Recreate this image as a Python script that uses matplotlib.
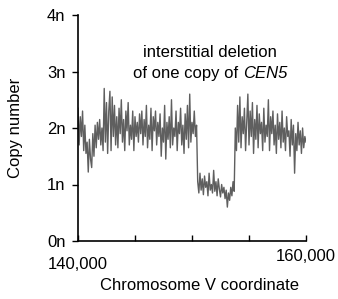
import numpy as np
import matplotlib
matplotlib.use("Agg")
import matplotlib.pyplot as plt

plt.rcParams['font.family'] = ['Liberation Sans', 'DejaVu Sans']

# copy number along chromosome V, one value per 100 bp from 140,000 to 160,000
left_arm = [2.35, 1.7, 2.2, 1.85, 2.3, 1.6, 2.05, 1.55, 1.75, 1.22, 1.8, 1.45, 1.3, 1.9, 1.5, 2.05,
            1.65, 2.1, 1.8, 2.15, 1.7, 2.0, 1.6, 2.7, 1.75, 2.45, 1.55, 2.3, 2.65,
            1.6, 2.55, 1.85, 2.4, 1.7, 2.2, 1.65, 2.35, 1.9, 2.5, 1.75, 2.15, 1.6, 2.3, 1.95,
            2.45, 1.7, 2.05, 1.8, 2.3, 1.6, 2.2, 1.85, 2.1, 1.75, 2.25,
            1.9, 2.3, 1.7, 2.15, 1.85, 2.4, 1.65, 2.05, 1.8, 2.35, 1.6, 2.2, 1.95, 2.3, 1.7,
            2.1, 1.85, 2.25, 1.5, 2.0, 1.75, 2.4, 1.45, 2.1, 1.8, 2.2, 1.65, 2.5, 1.7, 2.0,
            1.85, 2.3, 1.6, 2.1, 1.9, 2.35, 1.7, 2.05, 1.55, 2.25, 1.8, 2.4, 1.65, 2.6, 1.75,
            2.1, 1.9, 2.3, 1.85, 2.05]
deleted = [1.05, 0.85, 1.2, 0.9, 1.1, 0.82, 1.15, 0.95, 1.05, 0.8, 1.2, 0.9, 1.0, 0.85, 1.25,
           0.88, 1.05, 0.8, 1.1, 0.92, 0.78, 1.0, 0.85, 0.95, 0.75, 0.9, 0.6, 0.85, 0.72, 0.95,
           0.8, 1.05, 0.88]
right_arm = [2.0, 1.6, 2.4, 1.75, 2.55, 1.65, 2.2, 1.9, 2.35, 1.6, 2.1, 2.6, 1.7, 2.3, 1.85,
             2.45, 1.55, 2.15, 1.8, 2.4, 1.65, 2.25, 1.9, 2.1, 1.6, 2.35, 1.75, 2.05, 1.85, 2.5,
             1.6, 2.2, 1.9, 2.3, 1.7, 2.05, 1.55, 2.25, 1.8, 2.1, 1.65, 2.3, 1.75, 2.0, 1.6,
             2.2, 1.85, 1.95, 1.5, 2.15, 1.7, 2.05, 1.2, 1.9, 1.6, 2.1, 1.7, 1.95, 1.55, 2.0,
             1.65, 1.85, 1.75]

copy_number = np.array(left_arm + deleted + right_arm)
coords = 140000 + 100 * np.arange(len(copy_number))

y_ticks = [0, 1, 2, 3, 4]
y_labels = ['0n', '1n', '2n', '3n', '4n']
x_ticks = [140000, 145000, 150000, 155000, 160000]

fs = 12

fig = plt.figure(figsize=(3.38, 2.99), dpi=100)
ax = fig.add_axes([78 / 338, 58 / 299, 228 / 338, 226 / 299])

ax.plot(coords, copy_number, color='#5f5f5f', linewidth=1.0)

ax.set_xlim(140000, 160000)
ax.set_ylim(0, 4)
ax.set_yticks(y_ticks)
ax.set_yticklabels(y_labels, fontsize=fs)
ax.set_xticks(x_ticks)
ax.set_xticklabels([])
ax.tick_params(axis='y', direction='out', length=4, width=1, pad=5)
ax.tick_params(axis='x', direction='in', length=4, width=1)
for side in ['top', 'right']:
    ax.spines[side].set_visible(False)
for side in ['left', 'bottom']:
    ax.spines[side].set_linewidth(1.2)

# the two end labels sit at slightly different heights in the original
ax.text(0.0, -0.105, '140,000', transform=ax.transAxes, ha='center', va='center', fontsize=fs)
ax.text(1.0, -0.07, '160,000', transform=ax.transAxes, ha='center', va='center', fontsize=fs)
ax.text(0.535, -0.195, 'Chromosome V coordinate', transform=ax.transAxes,
        ha='center', va='center', fontsize=fs)
ax.set_ylabel('Copy number', fontsize=fs, labelpad=17)

ax.text(0.58, 0.835, 'interstitial deletion', transform=ax.transAxes,
        ha='center', va='center', fontsize=fs)

# second line: plain part then italic CEN5, centred together
plain = ax.text(0, 0.74, 'of one copy of ', transform=ax.transAxes,
                ha='left', va='center', fontsize=fs)
ital = ax.text(0, 0.74, 'CEN5', transform=ax.transAxes,
               ha='left', va='center', fontsize=fs, style='italic')
fig.canvas.draw()
r = fig.canvas.get_renderer()
ax_w = ax.get_window_extent(r).width
w_plain = plain.get_window_extent(r).width / ax_w
w_ital = ital.get_window_extent(r).width / ax_w
x0 = 0.58 - (w_plain + w_ital) / 2
plain.set_x(x0)
ital.set_x(x0 + w_plain)

fig.savefig('out.png', dpi=100)
